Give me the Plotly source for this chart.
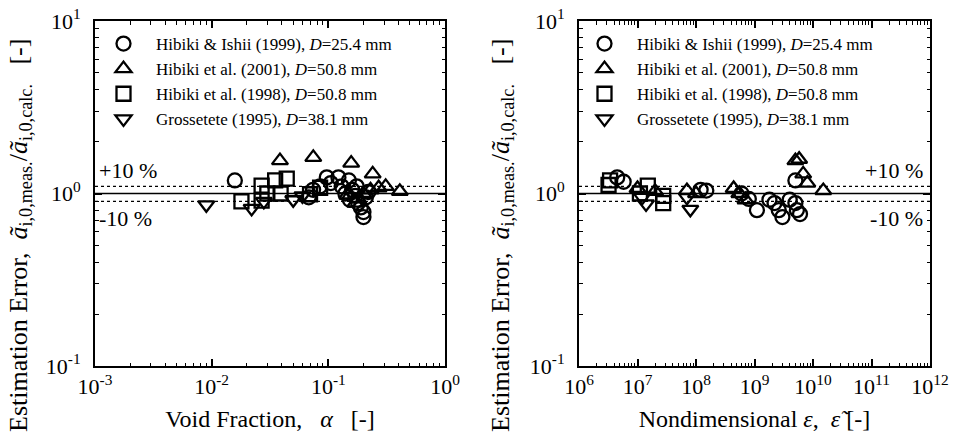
import math
import plotly.graph_objects as go

# ---- data: left panel (void fraction) ----
L_circ_x = [0.0158, 0.068, 0.074, 0.085, 0.097, 0.105, 0.122, 0.13, 0.14, 0.15, 0.153, 0.16, 0.17, 0.175, 0.18, 0.19, 0.2, 0.2, 0.21, 0.22]
L_circ_y = [1.19, 0.95, 1.05, 1.10, 1.24, 1.15, 1.24, 1.10, 1.00, 1.19, 0.92, 1.05, 0.97, 1.10, 0.88, 0.83, 0.78, 0.73, 0.95, 1.02]
L_tri_x = [0.0385, 0.0743, 0.157, 0.24, 0.31, 0.41, 0.145, 0.18, 0.2, 0.23, 0.27, 0.17]
L_tri_y = [1.55, 1.62, 1.50, 1.30, 1.10, 1.03, 0.98, 0.93, 1.00, 1.05, 1.08, 0.88]
L_sq_x = [0.018, 0.0268, 0.0268, 0.035, 0.044, 0.039, 0.0697, 0.085, 0.030]
L_sq_y = [0.90, 1.11, 0.91, 1.19, 1.22, 1.00, 0.99, 1.08, 1.00]
L_dn_x = [0.009, 0.022, 0.050, 0.028, 0.060]
L_dn_y = [0.86, 0.82, 0.92, 0.90, 0.97]

# ---- data: right panel (nondimensional epsilon) ----
R_circ_x = [5.8e6, 4.5e6, 1.5e8, 1.2e8, 6e8, 8e8, 1.1e9, 1.8e9, 2.2e9, 2.6e9, 3e9, 4e9, 5e9, 5.3e9, 6e9, 5e9]
R_circ_y = [1.17, 1.24, 1.04, 1.05, 1.00, 0.93, 0.80, 0.92, 0.88, 0.80, 0.73, 0.92, 0.88, 0.80, 0.76, 1.19]
R_tri_x = [1e7, 4.4e8, 5.5e8, 7e8, 5e9, 5.8e9, 6.8e9, 8e9, 1.5e10, 2e7, 7e7, 1e8]
R_tri_y = [1.07, 1.07, 1.00, 0.92, 1.55, 1.58, 1.30, 1.15, 1.04, 1.03, 1.04, 1.00]
R_sq_x = [3.4e6, 3.2e6, 1.5e7, 2.75e7, 2.75e7, 1.1e7]
R_sq_y = [1.19, 1.12, 1.11, 0.97, 0.88, 1.00]
R_dn_x = [1.4e7, 8e7, 7e7, 1.2e7]
R_dn_y = [0.87, 0.81, 0.95, 0.95]

# ---- tick labels ----
L_x_exps = [-3, -2, -1, 0]
R_x_exps = [6, 7, 8, 9, 10, 11, 12]
Y_exps = [-1, 0, 1]

names = ["Hibiki & Ishii (1999), <i>D</i>=25.4 mm",
         "Hibiki et al. (2001), <i>D</i>=50.8 mm",
         "Hibiki et al. (1998), <i>D</i>=50.8 mm",
         "Grossetete (1995), <i>D</i>=38.1 mm"]
symbols = ["circle-open", "triangle-up-open", "square-open", "triangle-down-open"]

FONT = "Liberation Serif, Times New Roman, serif"
fig = go.Figure()

left_sets = [(L_circ_x, L_circ_y), (L_tri_x, L_tri_y), (L_sq_x, L_sq_y), (L_dn_x, L_dn_y)]
right_sets = [(R_circ_x, R_circ_y), (R_tri_x, R_tri_y), (R_sq_x, R_sq_y), (R_dn_x, R_dn_y)]

for i, (xs, ys) in enumerate(left_sets):
    fig.add_trace(go.Scatter(x=xs, y=ys, mode="markers", name=names[i],
                             marker=dict(symbol=symbols[i], size=14, color="black",
                                         line=dict(width=2.3, color="black")),
                             xaxis="x", yaxis="y", legend="legend"))
for i, (xs, ys) in enumerate(right_sets):
    fig.add_trace(go.Scatter(x=xs, y=ys, mode="markers", name=names[i],
                             marker=dict(symbol=symbols[i], size=14, color="black",
                                         line=dict(width=2.3, color="black")),
                             xaxis="x2", yaxis="y2", legend="legend2"))


def pw(e):
    return "10<sup>%d</sup>" % e


def minors(e0, e1):
    return [m * 10.0 ** e for e in range(e0, e1) for m in range(2, 10)]


def ax(minor_vals, **kw):
    d = dict(type="log", showline=True, linecolor="black", linewidth=2, mirror="allticks",
             ticks="inside", ticklen=7, tickwidth=1.5, tickcolor="black",
             showgrid=False, zeroline=False, automargin=False,
             tickfont=dict(family=FONT, size=22, color="black"),
             minor=dict(tickmode="array", tickvals=minor_vals, ticks="inside", ticklen=3.5,
                        tickwidth=1.2, tickcolor="black", showgrid=False))
    d.update(kw)
    return d


ydom = [1 - 366 / 442, 1 - 21 / 442]
LX = [95 / 955, 445 / 955]
RX = [579 / 955, 930 / 955]
TF = dict(family=FONT, size=24, color="black")
LEG = dict(yanchor="top", xanchor="left", bgcolor="rgba(0,0,0,0)", font=dict(family=FONT, size=17),
           tracegroupgap=0, itemwidth=55)
fig.update_layout(
    width=955, height=442, margin=dict(l=0, r=0, t=0, b=0, autoexpand=False),
    paper_bgcolor="white", plot_bgcolor="white",
    font=dict(family=FONT, size=17, color="black"),
    xaxis=ax(minors(-3, 0), domain=LX, range=[-3, 0], anchor="y",
             tickvals=[10.0 ** e for e in L_x_exps], ticktext=[pw(e) for e in L_x_exps],
             title=dict(text="Void Fraction,   <i>α</i>   [-]", font=TF, standoff=12)),
    yaxis=ax(minors(-1, 1), domain=ydom, range=[-1, 1], anchor="x", ticklabelstandoff=8,
             tickvals=[10.0 ** e for e in Y_exps], ticktext=[pw(e) for e in Y_exps]),
    xaxis2=ax(minors(6, 12), domain=RX, range=[6, 12], anchor="y2",
              tickvals=[10.0 ** e for e in R_x_exps], ticktext=[pw(e) for e in R_x_exps],
              title=dict(text="Nondimensional <i>ε</i>,  <i>ε̃</i> [-]", font=TF, standoff=12)),
    yaxis2=ax(minors(-1, 1), domain=ydom, range=[-1, 1], anchor="x2", ticklabelstandoff=8,
              tickvals=[10.0 ** e for e in Y_exps], ticktext=[pw(e) for e in Y_exps]),
    legend=dict(x=91 / 955, y=1 - 26 / 442, **LEG),
    legend2=dict(x=572 / 955, y=1 - 26 / 442, **LEG),
    showlegend=True,
)

for xr, yr in [("x domain", "y"), ("x2 domain", "y2")]:
    fig.add_shape(type="line", xref=xr, yref=yr, x0=0, x1=1, y0=1.0, y1=1.0,
                  line=dict(color="black", width=1.5))
    for v in (1.1, 0.9):
        fig.add_shape(type="line", xref=xr, yref=yr, x0=0, x1=1, y0=v, y1=v,
                      line=dict(color="black", width=1.2, dash="dot"))

ytitle = ("Estimation Error,  <i>ã</i><sub>i,0,meas.</sub>/<i>ã</i><sub>i,0,calc.</sub>   [-]")
YT = dict(family=FONT, size=26, color="black")
fig.add_annotation(xref="paper", yref="paper", x=20 / 955, y=1 - 236 / 442, text=ytitle,
                   textangle=-90, showarrow=False, xanchor="center", yanchor="middle", font=YT)
fig.add_annotation(xref="paper", yref="paper", x=502 / 955, y=1 - 236 / 442, text=ytitle,
                   textangle=-90, showarrow=False, xanchor="center", yanchor="middle", font=YT)

ann_font = dict(family=FONT, size=22, color="black")
up_y = math.log10(1.36)
dn_y = math.log10(0.72)
fig.add_annotation(xref="x domain", yref="y", x=0.005, y=up_y, text="+10 %", showarrow=False,
                   xanchor="left", yanchor="middle", font=ann_font)
fig.add_annotation(xref="x domain", yref="y", x=0.005, y=dn_y, text="-10 %", showarrow=False,
                   xanchor="left", yanchor="middle", font=ann_font)
fig.add_annotation(xref="x2 domain", yref="y2", x=0.985, y=up_y, text="+10 %", showarrow=False,
                   xanchor="right", yanchor="middle", font=ann_font)
fig.add_annotation(xref="x2 domain", yref="y2", x=0.985, y=dn_y, text="-10 %", showarrow=False,
                   xanchor="right", yanchor="middle", font=ann_font)

fig.write_html("out.html")
